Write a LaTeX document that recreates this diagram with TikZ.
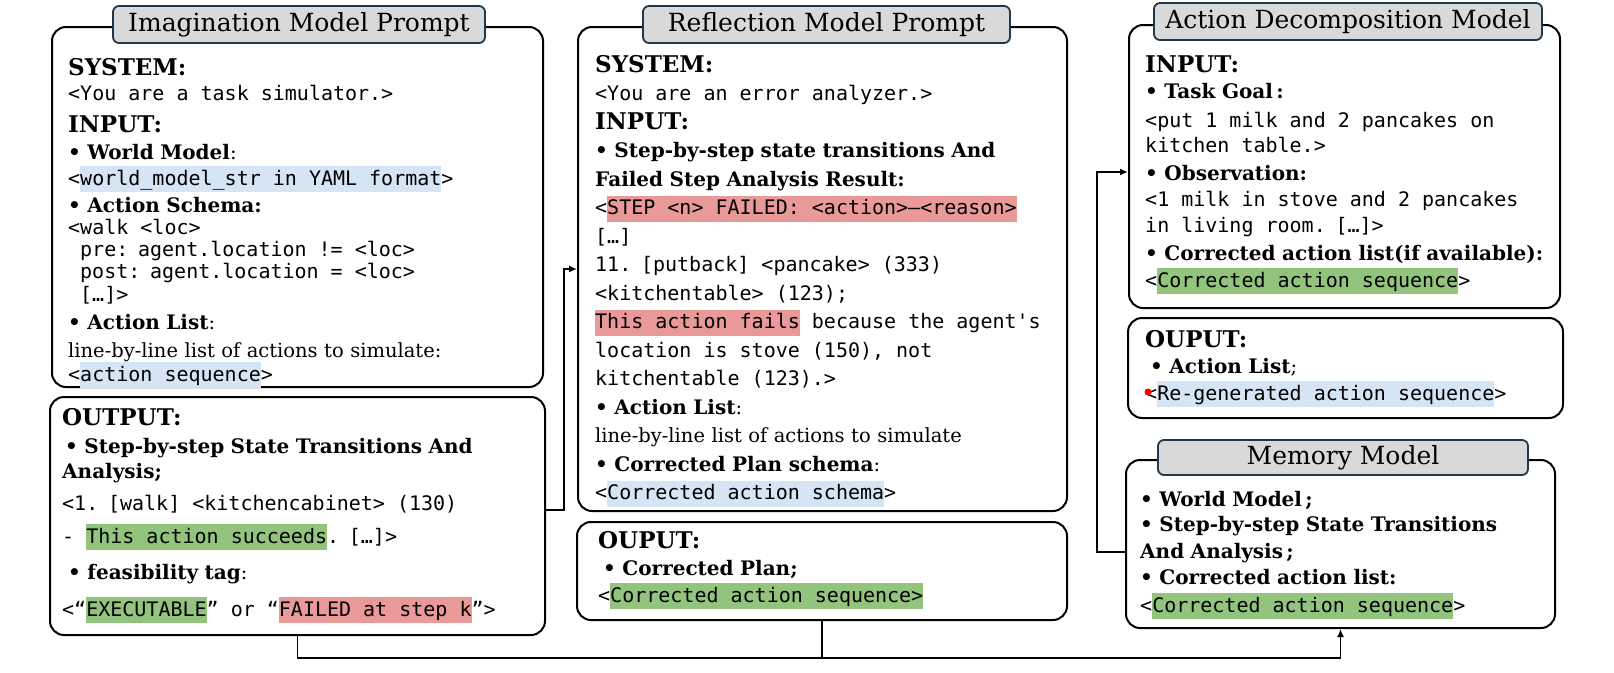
\documentclass[tikz,border=0pt]{standalone}
\usepackage{fontspec}
\setmainfont{DejaVu Serif}
\setmonofont{DejaVu Sans Mono}
\usetikzlibrary{arrows.meta}

\definecolor{hlblue}{RGB}{213,229,246}
\definecolor{hlgreen}{RGB}{147,196,125}
\definecolor{hlred}{RGB}{234,153,153}
\definecolor{tabline}{RGB}{31,56,76}

\lineskiplimit=-100pt
\newcommand{\hlbox}[2]{{\setlength{\fboxsep}{0pt}\smash{\colorbox{#1}{\rule[-7pt]{0pt}{26pt}#2}}}}
\newcommand{\hlb}[1]{\hlbox{hlblue}{#1}}
\newcommand{\hlg}[1]{\hlbox{hlgreen}{#1}}
\newcommand{\hlr}[1]{\hlbox{hlred}{#1}}
\newcommand{\headfnt}{\bfseries\fontsize{23}{22}\selectfont}
\newcommand{\bulfnt}{\bfseries\fontsize{20}{22}\selectfont}
\newcommand{\mono}[1]{{\ttfamily\fontsize{20}{22}\selectfont\spaceskip=12.04pt\relax #1}}

\tikzset{
  panel/.style={draw=black, line width=2pt, rounded corners=14pt, fill=white},
  tab/.style={draw=tabline, fill=gray!30, line width=1.8pt, rounded corners=6pt, inner sep=0pt, font=\fontsize{25}{28}\selectfont},
  txt/.style={anchor=base west, inner sep=0pt, text width=470pt, align=left, font=\fontsize{19.5}{22}\selectfont},
  conn/.style={line width=1.8pt}
}

\begin{document}
\begin{tikzpicture}[x=1pt, y=-1pt, >={Latex[length=8pt,width=7pt]}]
    \useasboundingbox (0,0) rectangle (1614,672);

    % panels
    \node[panel, minimum width=491pt, minimum height=360pt] (imgin) at (297.5,207) {};
    \node[panel, minimum width=495pt, minimum height=238pt] (imgout) at (297.5,516) {};
    \node[panel, minimum width=489pt, minimum height=484pt] (refin) at (822.5,269) {};
    \node[panel, minimum width=490pt, minimum height=98pt] (refout) at (822,571) {};
    \node[panel, minimum width=431pt, minimum height=283pt] (adin) at (1344.5,166.5) {};
    \node[panel, minimum width=435pt, minimum height=100pt] (adout) at (1345.5,368) {};
    \node[panel, minimum width=429pt, minimum height=168pt] (mem) at (1340.5,544) {};

    % title tabs
    \node[tab, minimum width=372pt, minimum height=37pt] (imgtab) at (299,24.5) {Imagination Model Prompt};
    \node[tab, minimum width=367pt, minimum height=37pt] (reftab) at (826.5,24.5) {Reflection Model Prompt};
    \node[tab, minimum width=388pt, minimum height=37pt] (adtab) at (1348,21.5) {Action Decomposition Model};
    \node[tab, minimum width=370pt, minimum height=35pt] (memtab) at (1343,457.5) {Memory Model};

    % imagination model
    \node[txt] (imgintxt) at (68,75) {%
        {\headfnt SYSTEM:}\\[3pt]
        \mono{<You are a task simulator.>}\\[10pt]
        {\headfnt INPUT:}\\[5pt]
        {\bulfnt • World Model}:\\[4pt]
        \mono{<\hlb{world\_model\_str in YAML format}>}\\[5pt]
        {\bulfnt • Action Schema:}\\
        \mono{<walk <loc>}\\
        \mono{\hspace*{12pt}pre: agent.location != <loc>}\\
        \mono{\hspace*{12pt}post: agent.location = <loc>}\\[1pt]
        \mono{\hspace*{12pt}[…]>}\\[6pt]
        {\bulfnt • Action List}:\\[6pt]
        line-by-line list of actions to simulate:\\[2pt]
        \mono{<\hlb{action sequence}>}};
    \node[txt] (imgouttxt) at (62,425) {%
        {\headfnt OUTPUT:}\\[6pt]
        \hspace*{3pt}{\bulfnt • Step-by-step State Transitions And}\\[3pt]
        {\bulfnt Analysis;}\\[10pt]
        \mono{<1. [walk] <kitchencabinet> (130)}\\[11pt]
        \mono{- \hlg{This action succeeds}. […]>}\\[14pt]
        \hspace*{6pt}{\bulfnt • feasibility tag}:\\[15pt]
        \mono{<“\hlg{EXECUTABLE}” or “\hlr{FAILED at step k}”>}};

    % reflection model
    \node[txt, font=\fontsize{19.5}{28.5}\selectfont] (refintxt) at (595,72) {%
        {\headfnt SYSTEM:}\\
        \mono{<You are an error analyzer.>}\\
        {\headfnt INPUT:}\\
        {\bulfnt • Step-by-step state transitions And}\\
        {\bulfnt Failed Step Analysis Result:}\\
        \mono{<\hlr{STEP <n> FAILED: <action>—<reason>}}\\
        \mono{[…]}\\
        \mono{11. [putback] <pancake> (333)}\\
        \mono{<kitchentable> (123);}\\
        \mono{\hlr{This action fails} because the agent's}\\
        \mono{location is stove (150), not}\\
        \mono{kitchentable (123).>}\\
        {\bulfnt • Action List}:\\
        line-by-line list of actions to simulate\\
        {\bulfnt • Corrected Plan schema}:\\
        \mono{<\hlb{Corrected action schema}>}};
    \node[txt] (refouttxt) at (598,548) {%
        {\headfnt OUPUT:}\\[5pt]
        \hspace*{5pt}{\bulfnt • Corrected Plan;}\\[5pt]
        \mono{<\hlg{Corrected action sequence>}}};

    % action decomposition model
    \node[txt] (adintxt) at (1145,72) {%
        {\headfnt INPUT:}\\[4pt]
        {\bulfnt • Task Goal\,:}\\[7pt]
        \mono{<put 1 milk and 2 pancakes on}\\[3pt]
        \mono{kitchen table.>}\\[6pt]
        {\bulfnt • Observation:}\\[4pt]
        \mono{<1 milk in stove and 2 pancakes}\\[4pt]
        \mono{in living room. […]>}\\[6pt]
        {\bulfnt • Corrected action list(if available):}\\[5pt]
        \mono{<\hlg{Corrected action sequence}>}};
    \node[txt] (adouttxt) at (1145,347) {%
        {\headfnt OUPUT:}\\[4pt]
        \hspace*{5pt}{\bulfnt • Action List};\\[5pt]
        \mono{<\hlb{Re-generated action sequence}>}};
    \fill[red] (1148,392) circle (3.5pt);

    % memory model
    \node[txt] (memtxt) at (1140,506) {%
        {\bulfnt • World Model\,;}\\[3pt]
        {\bulfnt • Step-by-step State Transitions}\\[5pt]
        {\bulfnt And Analysis\,;}\\[4pt]
        {\bulfnt • Corrected action list:}\\[6pt]
        \mono{<\hlg{Corrected action sequence}>}};

    % connectors
    \draw[conn, ->] ([yshift=6pt]imgout.east) -- ++(18,0) |- (refin.west);
    \draw[conn, ->] (imgout.south) -- ++(0,22) coordinate (bus) -| (mem.south);
    \draw[conn] (refout.south) -- (refout.south |- bus);
    \draw[conn, ->] ([yshift=-8pt]mem.west) -- ++(-28,0) |- ([yshift=-5.5pt]adin.west);
\end{tikzpicture}
\end{document}
